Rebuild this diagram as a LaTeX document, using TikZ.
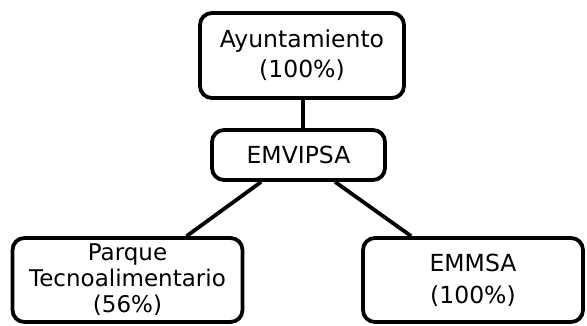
\documentclass[tikz,border=0pt]{standalone}
\usepackage{fontspec}
\setmainfont{DejaVu Sans}
\usetikzlibrary{calc}
\tikzset{
  orgbox/.style={draw=black, line width=3.8pt, rounded corners=12pt, fill=white,
    align=center, inner sep=0pt},
  link/.style={draw=black, line width=3.8pt}
}
\begin{document}
\begin{tikzpicture}[x=1pt,y=1pt]
\useasboundingbox (0,0) rectangle (587,325);
\node[orgbox, minimum width=204pt, minimum height=85pt,
  font=\fontsize{23.5}{30}\selectfont] (ayto) at (302,269.5) {Ayuntamiento\\(100\%)};
\node[orgbox, minimum width=173pt, minimum height=50pt,
  font=\fontsize{23.5}{26}\selectfont] (emv) at (298.5,170) {EMVIPSA};
\node[orgbox, minimum width=230pt, minimum height=84pt,
  font=\fontsize{23}{26}\selectfont] (parque) at (127.5,45) {Parque\\Tecnoalimentario\\(56\%)};
\node[orgbox, minimum width=220pt, minimum height=84pt,
  font=\fontsize{23.5}{32}\selectfont] (emmsa) at (473,45) {EMMSA\\(100\%)};
\draw[link] ($(ayto.south)+(1,0)$) -- ($(emv.north)+(4.5,0)$);
\draw[link] ($(emv.south west)+(51,0)$) -- ($(parque.north west)+(176,0)$);
\draw[link] ($(emv.south west)+(125,0)$) -- ($(emmsa.north west)+(50,0)$);
\end{tikzpicture}
\end{document}
